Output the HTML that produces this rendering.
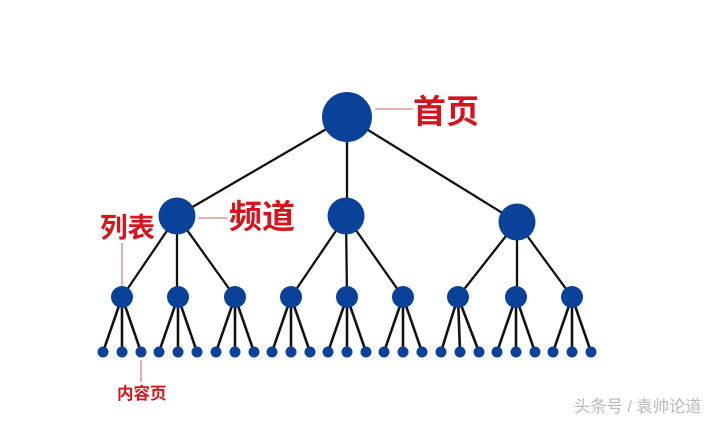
<!DOCTYPE html>
<html><head><meta charset="utf-8"><style>
html,body{margin:0;padding:0;background:#fff}
svg{display:block}
.r{font-family:"Liberation Sans","Noto Sans CJK SC",sans-serif;font-weight:700;fill:#d5141c}
</style></head><body>
<svg width="713" height="421" viewBox="0 0 713 421" xmlns="http://www.w3.org/2000/svg">
<g stroke="#111" stroke-width="2.3" fill="none">
<path d="M347 117L177 216M347 117V216M347 117L517 222"/>
<path d="M177 216L122 297M177 216V297M177 216L235 297M346 216L291 297M346 216L347 297M346 216L403 297M517 222L458 297M517 222V297M517 222L572 297"/>
</g>
<g stroke="#111" stroke-width="2.6" fill="none">
<path d="M122 297L103 352M122 297V352M122 297L141 352M178 297L159 352M178 297V352M178 297L197 352M235 297L216 352M235 297V352M235 297L254 352M291 297L272 352M291 297V352M291 297L310 352M347 297L328 352M347 297V352M347 297L366 352M403 297L384 352M403 297V352M403 297L422 352M458 297L441 352M458 297L460 352M458 297L479 352M516 297L497 352M516 297V352M516 297L535 352M572 297L553 352M572 297V352M572 297L591 352"/>
</g>
<g stroke="#dc7f86" stroke-width="1.3" fill="none">
<path d="M375 109H413M198 218H227M122 243V287M141 360V382"/>
</g>
<g fill="#0b4299">
<circle cx="347" cy="117" r="25"/>
<circle cx="177" cy="216" r="18.5"/><circle cx="346" cy="216" r="18.5"/><circle cx="517" cy="222" r="18.5"/>
<circle cx="122" cy="297" r="11"/><circle cx="178" cy="297" r="11"/><circle cx="235" cy="297" r="11"/><circle cx="291" cy="297" r="11"/><circle cx="347" cy="297" r="11"/><circle cx="403" cy="297" r="11"/><circle cx="458" cy="297" r="11"/><circle cx="516" cy="297" r="11"/><circle cx="572" cy="297" r="11"/>
<circle cx="103" cy="352" r="5.5"/><circle cx="122" cy="352" r="5.5"/><circle cx="141" cy="352" r="5.5"/><circle cx="159" cy="352" r="5.5"/><circle cx="178" cy="352" r="5.5"/><circle cx="197" cy="352" r="5.5"/><circle cx="216" cy="352" r="5.5"/><circle cx="235" cy="352" r="5.5"/><circle cx="254" cy="352" r="5.5"/><circle cx="272" cy="352" r="5.5"/><circle cx="291" cy="352" r="5.5"/><circle cx="310" cy="352" r="5.5"/><circle cx="328" cy="352" r="5.5"/><circle cx="347" cy="352" r="5.5"/><circle cx="366" cy="352" r="5.5"/><circle cx="384" cy="352" r="5.5"/><circle cx="403" cy="352" r="5.5"/><circle cx="422" cy="352" r="5.5"/><circle cx="441" cy="352" r="5.5"/><circle cx="460" cy="352" r="5.5"/><circle cx="479" cy="352" r="5.5"/><circle cx="497" cy="352" r="5.5"/><circle cx="516" cy="352" r="5.5"/><circle cx="535" cy="352" r="5.5"/><circle cx="553" cy="352" r="5.5"/><circle cx="572" cy="352" r="5.5"/><circle cx="591" cy="352" r="5.5"/>
</g>
<text class="r" x="413" y="123" font-size="33">首页</text>
<text class="r" x="229" y="228" font-size="33">频道</text>
<text class="r" x="100" y="237" font-size="27.5">列表</text>
<text class="r" x="117" y="399" font-size="16.5">内容页</text>
<text x="574" y="412" font-size="16.3" fill="#b8b8b8" font-family="'Liberation Sans','Noto Sans CJK SC',sans-serif">头条号 / 袁帅论道</text>
</svg>
</body></html>
